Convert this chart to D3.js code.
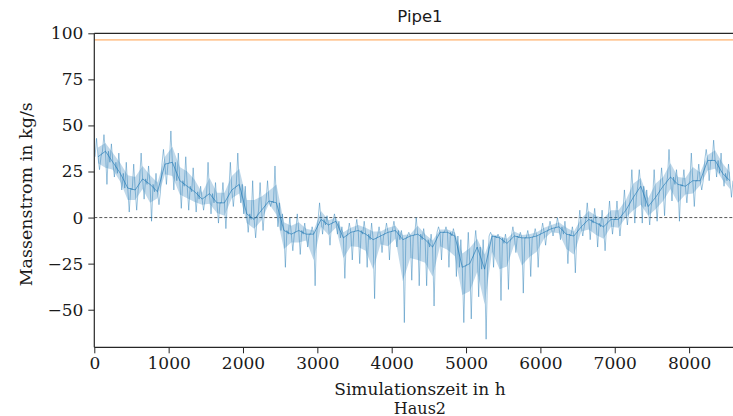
<!DOCTYPE html>
<html>
<head>
<meta charset="utf-8">
<script src="https://cdn.jsdelivr.net/npm/d3@7"></script>
<style>
  html, body { margin: 0; padding: 0; background: #fff; }
  svg { display: block; }
</style>
</head>
<body>
<svg id="chart" width="733" height="416"></svg>
<script>
// Hour at which each 100 h bin starts
const binStart = [0,100,200,300,400,500,600,700,800,900,1000,1100,1200,1300,1400,1500,1600,1700,1800,1900,
  2000,2100,2200,2300,2400,2500,2600,2700,2800,2900,3000,3100,3200,3300,3400,3500,3600,3700,3800,3900,
  4000,4100,4200,4300,4400,4500,4600,4700,4800,4900,5000,5100,5200,5300,5400,5500,5600,5700,5800,5900,
  6000,6100,6200,6300,6400,6500,6600,6700,6800,6900,7000,7100,7200,7300,7400,7500,7600,7700,7800,7900,
  8000,8100,8200,8300,8400,8500];
// Mass flow (kg/s): max, min and typical value in each bin
const hiVals = [43,45,40,35,30,29,35,28,24,37,47,35,33,27,17,30,19,19,30,35,
  17,20,19,20,28,2,0,2,-3,-5,8,1,2,-5,-3,-1,-2,-3,-5,-3,
  -2,-7,-8,0,-6,-9,-5,-5,-6,-12,-8,-7,-12,-8,-9,-9,-5,-8,-7,-6,
  -3,-2,0,-2,-5,4,8,5,4,9,9,15,26,26,15,26,27,37,26,26,
  35,29,37,42,35,29];
const loVals = [26,18,22,15,3,4,10,-2,7,18,15,5,4,3,4,2,-3,-6,6,8,
  -8,-11,-7,6,-5,-27,-18,-20,-16,-37,-9,-15,-9,-33,-23,-25,-27,-44,-19,-23,
  -16,-57,-34,-37,-37,-48,-23,-27,-32,-57,-55,-43,-66,-27,-45,-39,-19,-41,-32,-27,
  -15,-10,-12,-25,-30,-10,-12,-16,-18,-9,-10,-4,-3,-3,-4,-2,1,9,-2,8,
  6,15,20,22,17,11];
const midVals = [33,36,30,24,16,15,21,18,14,29,30,20,17,14,10,13,8,8,15,18,
  2,-1,4,9,8,-7,-9,-7,-9,-9,-1,-4,-2,-11,-8,-7,-9,-12,-10,-8,
  -7,-12,-10,-9,-12,-16,-8,-8,-10,-27,-25,-16,-28,-10,-11,-14,-10,-11,-11,-10,
  -8,-6,-5,-9,-10,-5,-1,-3,-5,-1,-1,4,11,17,6,11,17,22,18,17,
  20,20,31,31,24,20];
const refLine = 96.4;          // orange horizontal line
const xTicks = [0,1000,2000,3000,4000,5000,6000,7000,8000];
const yTicks = [-50,-25,0,25,50,75,100];
const xDomain = [0, 8760];
const yDomain = [-70.4, 100];

const svg = d3.select("#chart");
const L = 94.3, R = 745.6, T = 33.3, B = 347.3;
const x = d3.scaleLinear().domain(xDomain).range([L, R]);
const y = d3.scaleLinear().domain(yDomain).range([B, T]);
const serif = "DejaVu Serif";
const blue = "#1f77b4";

svg.append("defs").append("clipPath").attr("id","clip")
  .append("rect").attr("x",L).attr("y",T).attr("width",R-L).attr("height",B-T);

const g = svg.append("g").attr("clip-path","url(#clip)");

// zero dashed line
g.append("line").attr("x1",L).attr("x2",R).attr("y1",y(0)).attr("y2",y(0))
  .attr("stroke","#444").attr("stroke-width",0.9).attr("stroke-dasharray","3,2");
// orange line
g.append("line").attr("x1",L).attr("x2",R).attr("y1",y(refLine)).attr("y2",y(refLine))
  .attr("stroke","#ff7f0e").attr("stroke-width",1).attr("stroke-opacity",0.75);

// light band around the typical level, spanning toward the bin minima and maxima
g.append("path").datum(binStart.map((t,i)=>({t:t+50, lo:loVals[i], hi:hiVals[i], mid:midVals[i]})))
  .attr("d", d3.area().x(d => x(d.t))
    .y0(d => y((d.lo + d.mid) / 2)).y1(d => y((d.hi + d.mid) / 2)))
  .attr("fill", blue).attr("fill-opacity", 0.28);

// zig-zag noisy trace through the read values of each bin
const pts = [];
binStart.forEach((t, i) => {
  pts.push([t + 10, midVals[i]]);
  pts.push([t + 30, hiVals[i]]);
  pts.push([t + 50, midVals[i]]);
  pts.push([t + 70, loVals[i]]);
  pts.push([t + 90, midVals[i]]);
});
g.append("path").datum(pts)
  .attr("d", d3.line().x(d => x(d[0])).y(d => y(d[1])))
  .attr("fill","none").attr("stroke",blue).attr("stroke-width",0.8).attr("stroke-opacity",0.55);

// typical level
g.append("path").datum(binStart.map((t,i)=>[t+50, midVals[i]]))
  .attr("d", d3.line().x(d => x(d[0])).y(d => y(d[1])))
  .attr("fill","none").attr("stroke",blue).attr("stroke-width",0.9).attr("stroke-opacity",0.7);

// axes
const spine = "#262626";
const xAxis = svg.append("g").attr("transform",`translate(0,${B})`)
  .call(d3.axisBottom(x).tickValues(xTicks).tickSize(6).tickPadding(4).tickFormat(d3.format("d")));
const yAxis = svg.append("g").attr("transform",`translate(${L},0)`)
  .call(d3.axisLeft(y).tickValues(yTicks).tickSize(6).tickPadding(5)
    .tickFormat(d => d < 0 ? "\u2212" + Math.abs(d) : d));
[xAxis, yAxis].forEach(a => {
  a.select(".domain").attr("stroke",spine).attr("stroke-width",1.2);
  a.selectAll(".tick line").attr("stroke",spine).attr("stroke-width",1);
  a.selectAll(".tick text").attr("font-family",serif).attr("font-size",17).attr("fill","#1a1a1a");
});
xAxis.select(".domain").attr("d",`M${L},0H${R}`);
yAxis.select(".domain").attr("d",`M0,${B}V${T}`);
// top spine
svg.append("line").attr("x1",L).attr("x2",R).attr("y1",T).attr("y2",T)
  .attr("stroke",spine).attr("stroke-width",1.2);

// labels
svg.append("text").attr("x",(L+R)/2).attr("y",22).attr("text-anchor","middle")
  .attr("font-family","DejaVu Sans").attr("font-size",16.5).attr("fill","#1a1a1a").text("Pipe1");
svg.append("text").attr("transform",`translate(32,${(T+B)/2 + 4}) rotate(-90)`).attr("text-anchor","middle")
  .attr("font-family",serif).attr("font-size",17.5).attr("fill","#1a1a1a").text("Massenstrom in kg/s");
svg.append("text").attr("x",(L+R)/2).attr("y",395).attr("text-anchor","middle")
  .attr("font-family",serif).attr("font-size",17).attr("fill","#1a1a1a").text("Simulationszeit in h");
svg.append("text").attr("x",(L+R)/2).attr("y",413.5).attr("text-anchor","middle")
  .attr("font-family",serif).attr("font-size",16).attr("fill","#1a1a1a").text("Haus2");
</script>
</body>
</html>
